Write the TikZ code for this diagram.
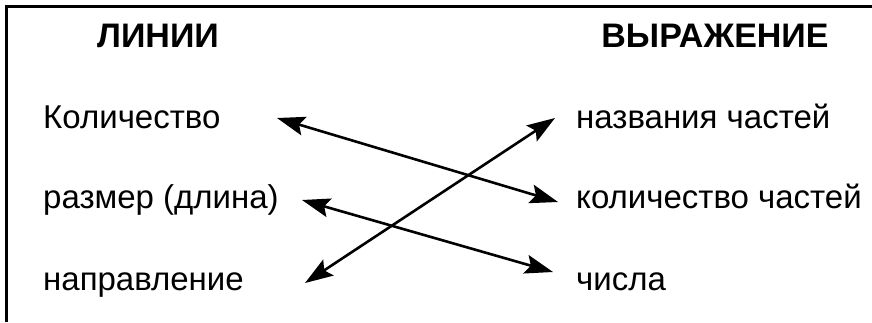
\documentclass[tikz,border=0pt]{standalone}
\usepackage{fontspec}
\setmainfont{Liberation Sans}
\usetikzlibrary{arrows.meta}
\tikzset{
  frame/.style={line width=3pt},
  head/.style={font=\fontsize{34}{38}\selectfont\bfseries, anchor=base, inner sep=0pt},
  item/.style={font=\fontsize{33}{37}\selectfont, anchor=base west, inner sep=0pt},
  link/.style={line width=2.6pt, {Stealth[length=28pt,width=19pt,inset=5pt]}-{Stealth[length=28pt,width=19pt,inset=5pt]}}
}
\begin{document}
\begin{tikzpicture}[x=1pt,y=-1pt]
\useasboundingbox (0,0) rectangle (872,322);
% frame on the top and left sides
\draw[frame] (872,6) -- (6,6) -- (6,322);
% column headings
\node[head] (hl) at (158,47) {ЛИНИИ};
\node[head] (hr) at (715,47) {ВЫРАЖЕНИЕ};
% left column
\node[item] (l1) at (43,128) {Количество};
\node[item] (l2) at (43,208) {размер (длина)};
\node[item] (l3) at (43,290) {направление};
% right column
\node[item] (r1) at (576,128) {названия частей};
\node[item] (r2) at (576,208) {количество частей};
\node[item] (r3) at (576,290) {числа};
% arrow ends
\coordinate (a1) at (277,118);
\coordinate (b1) at (558,202);
\coordinate (a2) at (305,283);
\coordinate (b2) at (555,118);
\coordinate (a3) at (302,200);
\coordinate (b3) at (553,272);
\draw[link] (a1) -- (b1);
\draw[link] (a2) -- (b2);
\draw[link] (a3) -- (b3);
\end{tikzpicture}
\end{document}
